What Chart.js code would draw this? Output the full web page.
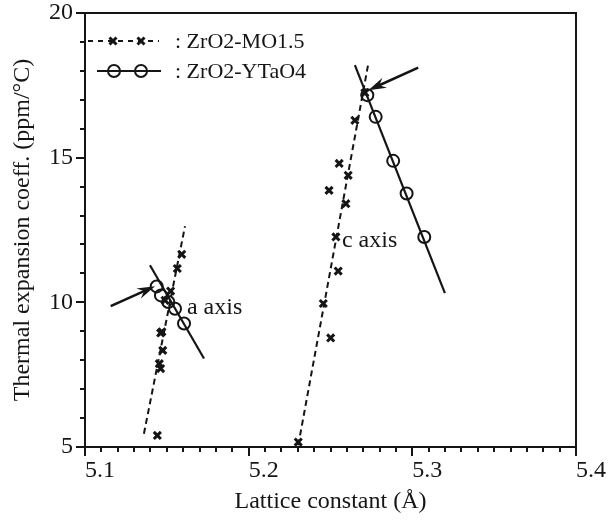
<!DOCTYPE html>
<html>
<head>
<meta charset="utf-8">
<script src="https://cdn.jsdelivr.net/npm/chart.js@4.4.1/dist/chart.umd.min.js"></script>
<style>
  html, body { margin: 0; padding: 0; background: #fff; }
  #wrap { width: 616px; height: 523px; }
</style>
</head>
<body>
<div id="wrap"><canvas id="chart" width="616" height="523"></canvas></div>
<script>
// ZrO2-MO1.5 (crosses) -- a axis group and c axis group
const moA_x = [5.1442, 5.1462, 5.1454, 5.1475, 5.1462, 5.1470, 5.1489, 5.1523, 5.1564, 5.1591];
const moA_y = [5.40, 7.71, 7.88, 8.34, 8.94, 8.98, 10.07, 10.39, 11.17, 11.66];
const moC_x = [5.2303, 5.2501, 5.2456, 5.2547, 5.2533, 5.2594, 5.2491, 5.2608, 5.2553, 5.2649, 5.2710];
const moC_y = [5.17, 8.77, 9.96, 11.08, 12.26, 13.41, 13.87, 14.39, 14.80, 16.29, 17.24];

// ZrO2-YTaO4 (circles)
const taA_x = [5.1438, 5.1464, 5.1509, 5.1550, 5.1605];
const taA_y = [10.55, 10.24, 10.01, 9.78, 9.27];
const taC_x = [5.2725, 5.2776, 5.2883, 5.2965, 5.3073];
const taC_y = [17.16, 16.41, 14.89, 13.76, 12.26];

// fitted lines (end points)
const fitMoA_x = [5.1360, 5.1611];
const fitMoA_y = [5.46, 12.63];
const fitMoC_x = [5.2303, 5.2731];
const fitMoC_y = [5.06, 18.25];
const fitTaA_x = [5.1397, 5.1727];
const fitTaA_y = [11.28, 8.06];
const fitTaC_x = [5.2649, 5.3199];
const fitTaC_y = [18.20, 10.32];

// arrows (tail -> head) and text notes
const arrowTail_x = [5.1157, 5.3036];
const arrowTail_y = [9.87, 18.11];
const arrowHead_x = [5.1428, 5.2731];
const arrowHead_y = [10.56, 17.33];
const noteText = ['a axis', 'c axis'];
const note_x = [5.1623, 5.2570];
const note_y = [9.83, 12.14];

const seriesNames = ['ZrO2-MO1.5', 'ZrO2-YTaO4'];
const xTickLabels = ['5.1', '5.2', '5.3', '5.4'];
const yTickLabels = ['5', '10', '15', '20'];

const FONT = '"Liberation Serif", "DejaVu Serif", serif';
const INK = '#151515';

const pts = (xs, ys) => xs.map((v, i) => ({ x: v, y: ys[i] }));
const isMajor = (v, step) => Math.abs(v / step - Math.round(v / step)) < 1e-6;

const crossStyle = {
  pointStyle: 'crossRot', pointRadius: 5, borderWidth: 3,
  borderColor: INK, backgroundColor: INK, showLine: false
};
const circleStyle = {
  pointStyle: 'circle', pointRadius: 6, borderWidth: 2,
  borderColor: INK, backgroundColor: 'rgba(0,0,0,0)', showLine: false
};
const dashLine = { showLine: true, pointRadius: 0, borderColor: INK, borderWidth: 2, borderDash: [6, 4] };
const solidLine = { showLine: true, pointRadius: 0, borderColor: INK, borderWidth: 2.2 };

// frame + outward ticks
const frameTicks = {
  id: 'frameTicks',
  afterDraw(chart) {
    const { ctx, chartArea: a, scales: { x, y } } = chart;
    ctx.save();
    ctx.setLineDash([]);
    ctx.strokeStyle = INK;
    ctx.lineWidth = 2;
    ctx.strokeRect(a.left, a.top, a.right - a.left, a.bottom - a.top);
    ctx.beginPath();
    x.ticks.forEach(t => {
      const px = Math.round(x.getPixelForValue(t.value));
      const len = isMajor(t.value, 0.1) ? 9 : 5;
      ctx.moveTo(px, a.bottom);
      ctx.lineTo(px, a.bottom + len);
    });
    y.ticks.forEach(t => {
      const py = Math.round(y.getPixelForValue(t.value));
      const len = isMajor(t.value, 5) ? 9 : 5;
      ctx.moveTo(a.left, py);
      ctx.lineTo(a.left - len, py);
    });
    ctx.stroke();
    ctx.restore();
  }
};

// arrows and axis notes
const notes = {
  id: 'notes',
  afterDatasetsDraw(chart) {
    const { ctx, scales: { x, y } } = chart;
    ctx.save();
    ctx.setLineDash([]);
    ctx.strokeStyle = INK;
    ctx.fillStyle = INK;
    arrowTail_x.forEach((tx, i) => {
      const x0 = x.getPixelForValue(tx), y0 = y.getPixelForValue(arrowTail_y[i]);
      const x1 = x.getPixelForValue(arrowHead_x[i]), y1 = y.getPixelForValue(arrowHead_y[i]);
      const ang = Math.atan2(y1 - y0, x1 - x0);
      const L = 18, W = 5.5;
      const c = Math.cos(ang), s = Math.sin(ang);
      const bx = x1 - L * c, by = y1 - L * s;
      ctx.lineWidth = 2.6;
      ctx.beginPath();
      ctx.moveTo(x0, y0);
      ctx.lineTo(x1 - 9 * c, y1 - 9 * s);
      ctx.stroke();
      ctx.beginPath();
      ctx.moveTo(x1, y1);
      ctx.lineTo(bx + W * s, by - W * c);
      ctx.lineTo(x1 - 12 * c, y1 - 12 * s);
      ctx.lineTo(bx - W * s, by + W * c);
      ctx.closePath();
      ctx.fill();
    });
    ctx.font = '24px ' + FONT;
    ctx.textAlign = 'left';
    ctx.textBaseline = 'middle';
    noteText.forEach((t, i) => {
      ctx.fillText(t, x.getPixelForValue(note_x[i]), y.getPixelForValue(note_y[i]));
    });
    ctx.restore();
  }
};

// legend: line sample with two markers, then ": name"
const legendBox = {
  id: 'legendBox',
  afterDraw(chart) {
    const { ctx, chartArea: a } = chart;
    ctx.save();
    ctx.strokeStyle = INK;
    ctx.fillStyle = INK;
    const rows = [a.top + 28, a.top + 58];
    // row 1: dashed with crosses
    ctx.lineWidth = 2;
    ctx.setLineDash([5, 5]);
    ctx.beginPath();
    ctx.moveTo(a.left + 3, rows[0]);
    ctx.lineTo(a.left + 74, rows[0]);
    ctx.stroke();
    ctx.setLineDash([]);
    [a.left + 28, a.left + 56].forEach(cx => {
      ctx.lineWidth = 3;
      ctx.beginPath();
      ctx.moveTo(cx - 3.5, rows[0] - 3.5); ctx.lineTo(cx + 3.5, rows[0] + 3.5);
      ctx.moveTo(cx - 3.5, rows[0] + 3.5); ctx.lineTo(cx + 3.5, rows[0] - 3.5);
      ctx.stroke();
    });
    // row 2: solid with circles
    ctx.lineWidth = 2;
    ctx.beginPath();
    ctx.moveTo(a.left + 12, rows[1]);
    ctx.lineTo(a.left + 76, rows[1]);
    ctx.stroke();
    [a.left + 29, a.left + 56].forEach(cx => {
      ctx.beginPath();
      ctx.arc(cx, rows[1], 6, 0, Math.PI * 2);
      ctx.stroke();
    });
    ctx.font = '22px ' + FONT;
    ctx.textAlign = 'left';
    ctx.textBaseline = 'middle';
    seriesNames.forEach((n, i) => ctx.fillText(': ' + n, a.left + 90, rows[i] + 1));
    ctx.restore();
  }
};

new Chart(document.getElementById('chart'), {
  type: 'scatter',
  data: {
    datasets: [
      { label: seriesNames[0], data: pts(moA_x, moA_y), ...crossStyle },
      { label: seriesNames[0], data: pts(moC_x, moC_y), ...crossStyle },
      { label: seriesNames[1], data: pts(taA_x, taA_y), ...circleStyle },
      { label: seriesNames[1], data: pts(taC_x, taC_y), ...circleStyle },
      { label: 'fit', data: pts(fitMoA_x, fitMoA_y), ...dashLine },
      { label: 'fit', data: pts(fitMoC_x, fitMoC_y), ...dashLine },
      { label: 'fit', data: pts(fitTaA_x, fitTaA_y), ...solidLine },
      { label: 'fit', data: pts(fitTaC_x, fitTaC_y), ...solidLine }
    ]
  },
  options: {
    responsive: false,
    devicePixelRatio: 1,
    animation: false,
    layout: { padding: { top: 13, right: 40, left: 0, bottom: 0 } },
    plugins: { legend: { display: false }, tooltip: { enabled: false } },
    scales: {
      x: {
        type: 'linear', min: 5.1, max: 5.4,
        grid: { display: false, drawTicks: false },
        border: { display: false },
        ticks: {
          stepSize: 0.01, autoSkip: false, maxRotation: 0, align: 'start',
          padding: 9, color: INK, font: { family: FONT, size: 24 },
          callback: v => isMajor(v, 0.1) ? xTickLabels[Math.round((v - 5.1) * 10)] : ''
        },
        title: {
          display: true, text: 'Lattice constant (Å)', color: INK,
          font: { family: FONT, size: 24 }, padding: { top: 0, bottom: 7 }
        },
        afterFit(s) { s.height = 76; s.paddingLeft = 0; s.paddingRight = 0; }
      },
      y: {
        type: 'linear', min: 5, max: 20,
        grid: { display: false, drawTicks: false },
        border: { display: false },
        ticks: {
          stepSize: 1, autoSkip: false, padding: 12, color: INK,
          font: { family: FONT, size: 24 },
          callback: v => isMajor(v, 5) ? yTickLabels[Math.round((v - 5) / 5)] : ''
        },
        title: {
          display: true, text: 'Thermal expansion coeff. (ppm/°C)', color: INK,
          font: { family: FONT, size: 24 }, padding: { top: 8, bottom: 0 }
        },
        afterFit(s) { s.width = 85; s.paddingTop = 0; s.paddingBottom = 0; }
      }
    }
  },
  plugins: [frameTicks, notes, legendBox]
});
</script>
</body>
</html>
